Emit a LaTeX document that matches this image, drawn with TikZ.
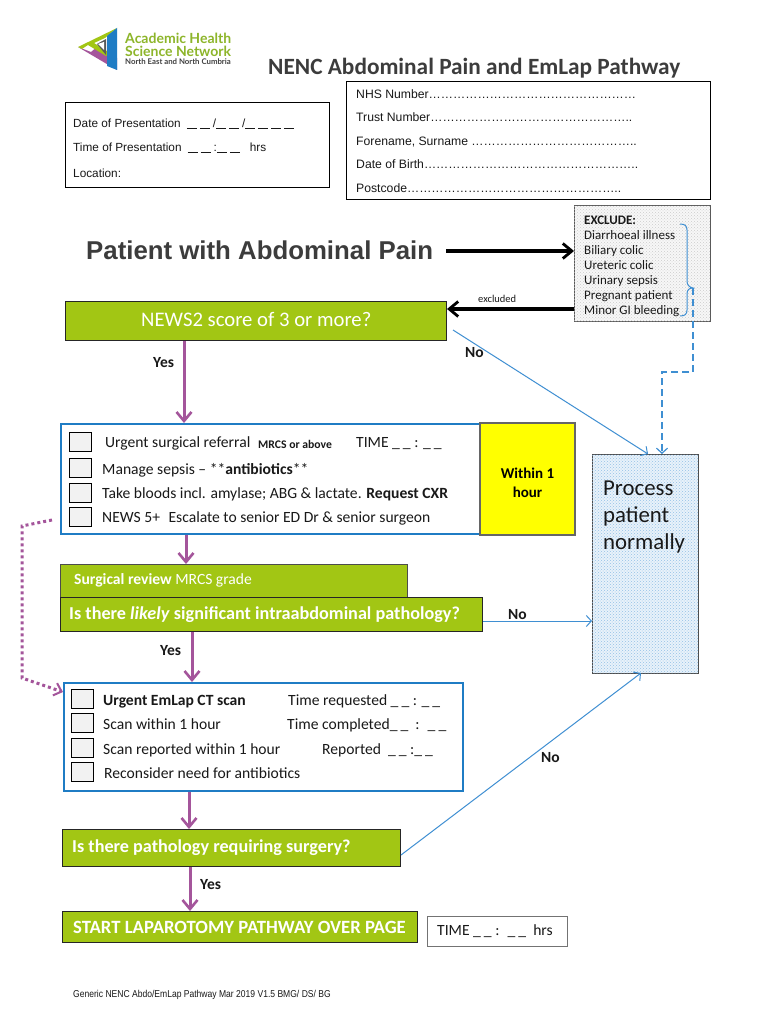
\documentclass[tikz,border=0pt]{standalone}
\usepackage{fontspec}
\setmainfont{Carlito}
\newfontfamily\arialf{Liberation Sans}
\newfontfamily\logof{Lato}
\usetikzlibrary{arrows.meta,patterns,decorations.pathreplacing,calc}
\definecolor{nencgreen}{HTML}{A2C614}
\definecolor{nencpurple}{HTML}{A4559B}
\definecolor{nencblue}{HTML}{1F7CC4}
\definecolor{linkblue}{HTML}{3F8FD2}
\definecolor{graytext}{HTML}{3C3C3C}
\definecolor{hiyellow}{HTML}{FFFF00}
\definecolor{logogreen}{HTML}{8DB52A}
\newcommand{\fs}[1]{\fontsize{#1}{#1}\selectfont}
\newcommand{\dsh}{\rule[-1.6pt]{10pt}{.6pt}\hspace{3pt}}
\newcommand{\ud}{\_\hspace{3pt}\_}
\tikzset{
  x=1pt,y=-1pt,
  box/.style={draw,rectangle,inner sep=0pt,anchor=north west},
  txt/.style={anchor=west,inner sep=0pt,text=black!90,text height=14pt,text depth=3pt},
  formtxt/.style={txt,font=\arialf\fs{12.2},text height=12pt,text depth=3pt},
  bodytxt/.style={txt,font=\fs{15.6}},
  whitetxt/.style={txt,text=white},
  lbl/.style={txt,font=\bfseries\fs{15.5}},
  greenbox/.style={box,fill=nencgreen,draw=black!85,line width=1pt},
  bluebox/.style={box,draw=nencblue,line width=1.6pt,fill=white},
  checkbox/.style={box,draw=black,line width=1.3pt,fill=black!5,minimum width=22pt,minimum height=19pt},
  purplearrow/.style={draw=nencpurple,line width=3pt,-{Straight Barb[length=9pt,width=15pt,line width=2.6pt]}},
  blackarrow/.style={draw=black,line width=3.2pt,-{Straight Barb[length=9pt,width=15pt,line width=2.8pt]}},
  thinarrow/.style={draw=linkblue,line width=1pt,-{Straight Barb[length=5pt,width=11pt,line width=1pt]}},
}
\begin{document}
\begin{tikzpicture}
\useasboundingbox (0,0) rectangle (770,1024);
\fill[white] (0,0) rectangle (770,1024);
% logo
\fill[nencpurple] (78,47) -- (117,70) -- (117,58) -- (97,47) -- (91,52) -- cycle;
\fill[nencgreen] (78,47) -- (117,28) -- (105,38) -- (94,43) -- (110,53) -- (106,56) -- (88,45) -- (82,49) -- cycle;
\fill[nencblue] (117,28) -- (117,70) -- (107,66) -- (107,36) -- cycle;
\fill[black!65] (97,44) -- (106,39) -- (106,55) -- cycle;
\fill[white] (98,44) -- (104,42) -- (104,50) -- cycle;
\node[txt,text=logogreen,font=\logof\bfseries\fs{14}] (logoa) at (125,38) {Academic Health};
\node[txt,text=logogreen,font=\logof\bfseries\fs{14}] (logob) at (125,51) {Science Network};
\node[txt,text=black!75,font=\logof\bfseries\fs{7.8}] (logoc) at (125,59.5) {North East and North Cumbria};
% title
\node[txt,text=graytext,font=\bfseries\fs{23.3}] (title) at (268,69) {NENC Abdominal Pain and EmLap Pathway};
% date box
\node[box,draw=black,line width=1pt,minimum width=264pt,minimum height=85pt] (datebox) at (65,102) {};
\node[formtxt,font=\arialf\fs{11.8}] (d1) at (73,123) {Date of Presentation\hspace{6pt}\dsh\dsh/\dsh\dsh/\dsh\dsh\dsh\dsh};
\node[formtxt,font=\arialf\fs{11.8}] (d2) at (73,147) {Time of Presentation\hspace{6pt}\dsh\dsh:\dsh\dsh\hspace{7pt}hrs};
\node[formtxt,font=\arialf\fs{11.8}] (d3) at (73,173) {Location:};
% nhs box
\node[box,draw=black,line width=.8pt,minimum width=364pt,minimum height=118pt] (nhsbox) at (346,81) {};
\node[formtxt] (n1) at (356,94) {NHS Number……………………………………………};
\node[formtxt] (n2) at (356,117) {Trust Number…………………………………………..};
\node[formtxt] (n3) at (356,141) {Forename, Surname …………………………………..};
\node[formtxt] (n4) at (356,164) {Date of Birth……………………………………………..};
\node[formtxt] (n5) at (356,188) {Postcode……………………………………………..};
% patient
\node[txt,text=graytext,font=\arialf\bfseries\fs{25.8}] (patient) at (86,253.5) {Patient with Abdominal Pain};
% exclude
\node[box,draw=black!65,line width=.8pt,fill=black!3,postaction={pattern=crosshatch dots,pattern color=black!20},minimum width=136pt,minimum height=116pt] (exclude) at (574,205) {};
\node[txt,font=\bfseries\fs{13}] (e0) at (584,219) {EXCLUDE:};
\node[txt,font=\fs{13}] (e1) at (584,234) {Diarrhoeal illness};
\node[txt,font=\fs{13}] (e2) at (584,249) {Biliary colic};
\node[txt,font=\fs{13}] (e3) at (584,264) {Ureteric colic};
\node[txt,font=\fs{13}] (e4) at (584,279) {Urinary sepsis};
\node[txt,font=\fs{13}] (e5) at (584,294) {Pregnant patient};
\node[txt,font=\fs{13}] (e6) at (584,309) {Minor GI bleeding};
\draw[linkblue,line width=1pt] (680,224) .. controls (685,224) and (687,226) .. (687,230) -- (687,281) .. controls (687,285) and (689,287) .. (693,288) .. controls (689,288) and (687,290) .. (687,294) -- (687,310) .. controls (687,314) and (685,316) .. (680,316);
% news
\node[greenbox,minimum width=381pt,minimum height=39pt] (news) at (65,301) {};
\node[whitetxt,font=\fs{20.7}] (newst) at (141,320.5) {NEWS2 score of 3 or more?};
% triage
\node[bluebox,minimum width=419pt,minimum height=110pt] (triage) at (60,423) {};
\node[box,draw=black!60,line width=2pt,fill=hiyellow,minimum width=95pt,minimum height=112pt] (within) at (479,422) {};
\node[font=\bfseries\fs{15},align=center,text=black,inner sep=0pt] (withint) at ([yshift=-4pt]within.center) {Within 1\\[4pt]hour};
\foreach \n/\y in {c1/432,c2/458,c3/483,c4/507}{\node[checkbox] (\n) at (69,\y) {};}
\node[bodytxt] (t1) at (105,442) {Urgent surgical referral};
\node[txt,font=\bfseries\fs{11.7}] (t1b) at (258,443) {MRCS or above};
\node[bodytxt] (t1c) at (356,442) {TIME \ud{} : \ud};
\node[bodytxt] (t2) at (102,469) {Manage sepsis -- **\textbf{antibiotics}**};
\node[bodytxt] (t3) at (102,493) {Take bloods incl. amylase; ABG \& lactate. \textbf{Request CXR}};
\node[bodytxt] (t4) at (102,517) {NEWS 5+\hspace{5pt} Escalate to senior ED Dr \& senior surgeon};
% review
\node[box,fill=nencgreen,draw=black!70,line width=.8pt,minimum width=347pt,minimum height=33pt] (review) at (60,564) {};
\node[whitetxt,font=\fs{15.6}] (reviewt) at (74,579) {\textbf{Surgical review} MRCS grade};
\node[greenbox,minimum width=422pt,minimum height=34pt] (q1) at (60,597) {};
\node[whitetxt,font=\bfseries\fs{18.2}] (q1t) at (69,614) {Is there \textit{likely} significant intraabdominal pathology?};
% CT
\node[bluebox,minimum width=399pt,minimum height=108pt] (ct) at (63,682) {};
\foreach \n/\y in {k1/689,k2/713,k3/738,k4/762}{\node[checkbox] (\n) at (71,\y) {};}
\node[bodytxt,font=\bfseries\fs{15.6}] (s1) at (103,700) {Urgent EmLap CT scan};
\node[bodytxt] (s1b) at (288,700) {Time requested \ud{} : \ud};
\node[bodytxt] (s2) at (103,724) {Scan within 1 hour};
\node[bodytxt] (s2b) at (287,724) {Time completed\ud{} \ : \ \ud};
\node[bodytxt] (s3) at (103,749) {Scan reported within 1 hour};
\node[bodytxt] (s3b) at (322,749) {Reported \ \ud{} :\ud};
\node[bodytxt] (s4) at (104,773) {Reconsider need for antibiotics};
% q2
\node[greenbox,minimum width=338pt,minimum height=37pt] (q2) at (62,829) {};
\node[whitetxt,font=\bfseries\fs{18.2}] (q2t) at (72,847) {Is there pathology requiring surgery?};
% start
\node[greenbox,minimum width=355pt,minimum height=31pt] (start) at (62,911) {};
\node[whitetxt,font=\bfseries\fs{18.7}] (startt) at (73,928) {START LAPAROTOMY PATHWAY OVER PAGE};
\node[box,draw=black!55,line width=.8pt,minimum width=140pt,minimum height=30pt] (timebox) at (427,916) {};
\node[bodytxt] (timet) at (437,930) {TIME \ud{} : \ \ud{} \ hrs};
% process
\node[box,draw=black!70,line width=.8pt,fill=linkblue!12,postaction={pattern=crosshatch dots,pattern color=linkblue!55},minimum width=106pt,minimum height=219pt] (process) at (592,454) {};
\node[txt,font=\fs{22.8}] (p1) at (603,490) {Process};
\node[txt,font=\fs{22.8}] (p2) at (603,517) {patient};
\node[txt,font=\fs{22.8}] (p3) at (603,544) {normally};
% footer
\node[txt,font=\arialf\fs{10}] (footer) at (73,992) {\scalebox{0.855}[1]{Generic NENC Abdo/EmLap Pathway Mar 2019 V1.5 BMG/ DS/ BG}};
% connectors
\coordinate (pa) at (446,251);
\draw[blackarrow] (pa) -- (pa -| exclude.west);
\coordinate (ex) at (574,309);
\draw[blackarrow] (ex) -- (ex -| news.east);
\node[txt,font=\fs{10.5}] (excl) at (478,297) {excluded};
\draw[purplearrow] (news.south -| 184,0) -- (triage.north -| 184,0);
\draw[purplearrow] (triage.south -| 186,0) -- (review.north -| 186,0);
\draw[purplearrow] (q1.south -| 192,0) -- (ct.north -| 192,0);
\draw[purplearrow] (ct.south -| 189,0) -- (q2.north -| 189,0);
\draw[purplearrow] (q2.south -| 190,0) -- (start.north -| 190,0);
\node[lbl] (y1) at (153,362) {Yes};
\node[lbl] (y2) at (160,650) {Yes};
\node[lbl] (y3) at (200,884) {Yes};
\node[lbl] (no1) at (465,352) {No};
\node[lbl] (no2) at (508,614) {No};
\node[lbl] (no3) at (541,757) {No};
\coordinate (brace) at (693,288);
\coordinate (nofree) at (453,330);
\draw[thinarrow] (nofree) -- (process.north -| 648,0);
\draw[thinarrow] (q1.east |- 0,621) -- (process.west |- 0,621);
\draw[thinarrow] (q2.east |- 0,855) -- (641,673);
\draw[linkblue,line width=1.6pt,dash pattern=on 7pt off 4pt,-{Straight Barb[length=5pt,width=11pt,line width=1.2pt]}] (brace) -- (693,372) -- (662,372) -- (process.north -| 662,0);
\draw[nencpurple,line width=3pt,dash pattern=on 3pt off 3pt,-{Straight Barb[length=7pt,width=13pt,line width=2pt]}] ([xshift=-8pt]triage.west |- 0,520) -- (22,526) -- (22,678) -- (ct.west |- 0,692);
\end{tikzpicture}
\end{document}
